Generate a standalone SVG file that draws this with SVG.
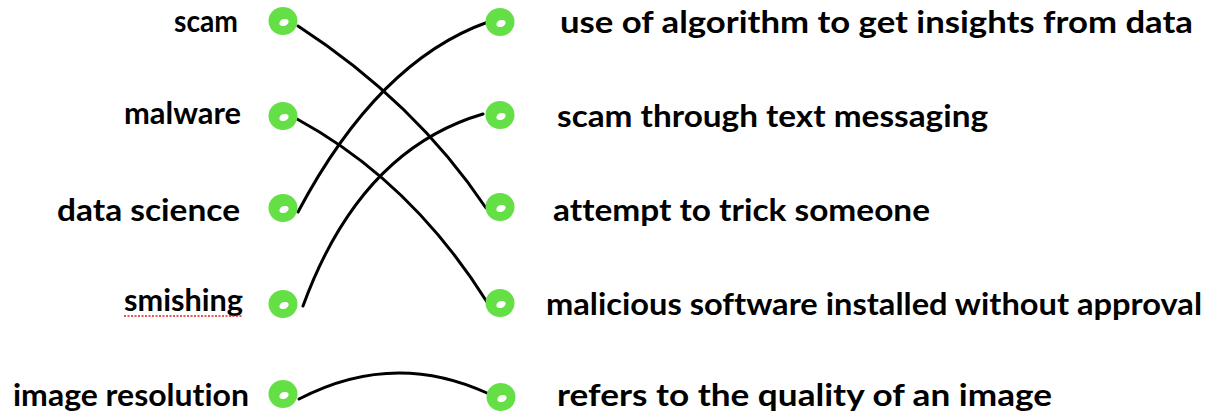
<svg xmlns="http://www.w3.org/2000/svg" width="1220" height="419" viewBox="0 0 1220 419">
<style>
.lbl{font-family:Lato,"DejaVu Sans",sans-serif;font-weight:bold;font-size:30px;fill:#000;font-variant-ligatures:none;font-feature-settings:"liga" 0}
.dot{fill:#64e046}
.hole{fill:#fff}
.conn{fill:none;stroke:#000;stroke-width:3;stroke-linecap:round}
</style>
<defs>
<g id="ring">
<ellipse class="dot" cx="0" cy="0" rx="14.5" ry="14"/>
<ellipse class="hole" cx="1" cy="1.5" rx="4.8" ry="3.4" transform="rotate(-20 1 1.5)"/>
</g>
</defs>
<rect width="1220" height="419" fill="#fff"/>
<g id="connectors">
<path class="conn" d="M298,26 Q415,102 486,208"/>
<path class="conn" d="M297,119 Q411,181 487,302"/>
<path class="conn" d="M298,212 Q378,61 488,22"/>
<path class="conn" d="M303,306 Q360,150 483,114"/>
<path class="conn" d="M299,399 Q393,350 487,393"/>
</g>
<g id="node-scam"><use href="#ring" x="283" y="21"/><text class="lbl" x="174" y="32" textLength="64" lengthAdjust="spacingAndGlyphs">scam</text></g>
<g id="node-malware"><use href="#ring" x="283" y="116"/><text class="lbl" x="124" y="124" textLength="117" lengthAdjust="spacingAndGlyphs">malware</text></g>
<g id="node-data-science"><use href="#ring" x="283" y="208"/><text class="lbl" x="57" y="221" textLength="183" lengthAdjust="spacingAndGlyphs">data science</text></g>
<g id="node-smishing"><use href="#ring" x="283" y="304"/><text class="lbl" x="124" y="311" textLength="119" lengthAdjust="spacingAndGlyphs">smishing</text><line x1="124" y1="316" x2="243" y2="316" stroke="#e02020" stroke-width="1.6" stroke-dasharray="2 1.5"/></g>
<g id="node-image-resolution"><use href="#ring" x="283" y="394"/><text class="lbl" x="13" y="406" textLength="236" lengthAdjust="spacingAndGlyphs">image resolution</text></g>
<g id="node-def-data"><use href="#ring" x="500" y="22"/><text class="lbl" x="560" y="33" textLength="633" lengthAdjust="spacingAndGlyphs">use of algorithm to get insights from data</text></g>
<g id="node-def-smishing"><use href="#ring" x="500" y="115"/><text class="lbl" x="557" y="127" textLength="431" lengthAdjust="spacingAndGlyphs">scam through text messaging</text></g>
<g id="node-def-scam"><use href="#ring" x="500" y="207"/><text class="lbl" x="553" y="221" textLength="377" lengthAdjust="spacingAndGlyphs">attempt to trick someone</text></g>
<g id="node-def-malware"><use href="#ring" x="500" y="303"/><text class="lbl" x="546" y="315" textLength="656" lengthAdjust="spacingAndGlyphs">malicious software installed without approval</text></g>
<g id="node-def-image"><use href="#ring" x="501" y="397"/><text class="lbl" x="557" y="406" textLength="495" lengthAdjust="spacingAndGlyphs">refers to the quality of an image</text></g>
</svg>
